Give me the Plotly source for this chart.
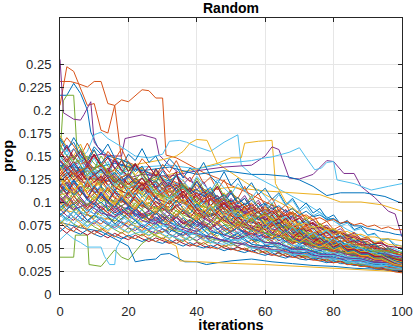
import plotly.graph_objects as go

# [Data]
# prop values are written in thousandths (per mille)
ITER = list(range(0, 101, 2))  # iterations sampled every 2 steps
ITER4 = list(range(0, 101, 4))  # coarser sampling for the extra runs

upper_runs = [
    [168, 155, 170, 158, 146, 160, 152, 163, 148, 139, 152, 145, 158, 143, 150, 136, 147, 139, 126, 137,
     131, 143, 128, 120, 133, 118, 126, 112, 121, 108, 115, 103, 110, 97, 104, 92, 99, 88, 93, 82,
     86, 76, 80, 70, 73, 64, 66, 58, 60, 52, 48],
    [158, 170, 161, 150, 164, 149, 140, 155, 146, 158, 142, 135, 147, 139, 128, 141, 132, 145, 130, 122,
     134, 120, 127, 113, 124, 110, 104, 117, 102, 109, 96, 104, 90, 97, 85, 91, 80, 86, 75, 79,
     70, 74, 64, 67, 60, 62, 55, 57, 50, 47, 44],
    [172, 160, 150, 163, 145, 156, 141, 135, 148, 133, 144, 129, 138, 124, 133, 120, 129, 115, 124, 110,
     119, 107, 114, 102, 110, 97, 105, 93, 99, 88, 94, 84, 89, 79, 84, 74, 78, 70, 73, 65,
     67, 60, 62, 56, 58, 52, 53, 48, 49, 45, 42],
    [150, 162, 148, 157, 140, 152, 138, 130, 145, 134, 126, 140, 131, 120, 135, 124, 116, 130, 119, 127,
     113, 122, 108, 117, 104, 112, 99, 107, 95, 102, 90, 97, 85, 92, 81, 86, 76, 81, 71, 75,
     67, 71, 63, 66, 58, 61, 54, 56, 50, 47, 44],
    [162, 150, 145, 158, 142, 136, 150, 139, 131, 146, 134, 142, 127, 121, 136, 125, 118, 131, 116, 112,
     126, 114, 108, 120, 106, 113, 100, 95, 107, 93, 88, 99, 85, 80, 90, 77, 83, 71, 77, 66,
     71, 62, 65, 58, 60, 53, 55, 49, 50, 45, 41],
    [145, 157, 140, 152, 136, 148, 133, 144, 127, 139, 125, 138, 131, 122, 135, 127, 118, 130, 123, 114,
     128, 119, 111, 124, 115, 108, 120, 112, 104, 114, 106, 98, 108, 96, 102, 90, 95, 85, 89, 80,
     82, 74, 77, 69, 71, 64, 65, 59, 60, 54, 52],
    [155, 143, 158, 146, 138, 151, 140, 133, 147, 135, 128, 141, 130, 122, 136, 124, 117, 129, 118, 111,
     123, 112, 106, 117, 103, 110, 98, 104, 92, 99, 88, 94, 84, 89, 78, 83, 74, 78, 69, 72,
     64, 67, 60, 62, 56, 57, 51, 53, 47, 44, 40],
    [170, 158, 165, 150, 144, 157, 142, 150, 137, 130, 144, 133, 139, 126, 121, 134, 123, 128, 116, 111,
     122, 110, 116, 104, 99, 110, 98, 104, 93, 88, 98, 86, 91, 81, 85, 76, 80, 71, 74, 66,
     69, 62, 64, 57, 59, 53, 54, 48, 49, 44, 41],
]

upper_mid_runs = [
    [140, 128, 142, 131, 123, 137, 126, 132, 118, 128, 113, 126, 117, 108, 122, 112, 104, 117, 107, 99,
     111, 102, 95, 107, 96, 90, 101, 91, 85, 95, 83, 89, 79, 84, 74, 79, 70, 74, 65, 69,
     61, 64, 57, 59, 53, 54, 49, 50, 45, 43, 41],
    [135, 147, 133, 125, 140, 129, 120, 134, 123, 115, 130, 118, 112, 125, 114, 120, 106, 116, 103, 98,
     110, 99, 104, 93, 100, 89, 95, 85, 91, 81, 87, 77, 82, 73, 77, 69, 72, 65, 67, 61,
     62, 57, 58, 53, 54, 49, 50, 45, 42, 40, 38],
    [145, 133, 127, 140, 124, 132, 119, 126, 113, 122, 109, 117, 105, 114, 120, 106, 100, 112, 98, 106,
     94, 101, 90, 97, 86, 93, 83, 88, 79, 84, 75, 80, 71, 76, 67, 71, 63, 66, 60, 62,
     56, 58, 53, 54, 49, 50, 46, 47, 43, 40, 37],
    [130, 141, 127, 136, 122, 116, 129, 118, 111, 124, 113, 107, 121, 110, 104, 116, 106, 99, 111, 101,
     94, 105, 96, 89, 100, 91, 85, 95, 86, 80, 89, 79, 74, 83, 74, 69, 76, 67, 63, 68,
     60, 63, 56, 58, 52, 53, 48, 48, 44, 39, 36],
    [138, 126, 134, 121, 128, 115, 124, 133, 119, 112, 126, 115, 108, 119, 110, 103, 115, 105, 98, 109,
     99, 93, 103, 94, 87, 97, 89, 83, 92, 84, 78, 86, 77, 72, 79, 70, 74, 65, 68, 60,
     63, 56, 58, 52, 53, 48, 49, 44, 41, 38, 36],
    [142, 150, 137, 129, 143, 132, 124, 137, 126, 119, 131, 121, 113, 126, 116, 109, 121, 112, 104, 115,
     106, 99, 110, 100, 94, 104, 95, 88, 97, 89, 83, 91, 82, 77, 84, 75, 70, 76, 68, 63,
     67, 60, 62, 56, 57, 51, 52, 47, 44, 40, 37],
    [128, 119, 131, 121, 114, 127, 117, 110, 123, 113, 106, 118, 109, 102, 114, 104, 97, 109, 100, 94,
     104, 96, 90, 99, 91, 85, 94, 86, 81, 89, 79, 74, 82, 73, 68, 75, 67, 63, 69, 61,
     58, 62, 55, 56, 50, 51, 46, 46, 42, 38, 35],
    [150, 139, 132, 145, 133, 126, 138, 127, 120, 132, 122, 115, 127, 117, 110, 122, 112, 106, 116, 107,
     100, 110, 102, 95, 105, 96, 90, 99, 90, 84, 92, 83, 78, 86, 77, 72, 78, 69, 65, 70,
     62, 64, 57, 58, 53, 53, 48, 48, 44, 40, 37],
]

mid_runs = [
    [120, 109, 123, 112, 105, 118, 108, 101, 114, 104, 97, 110, 101, 94, 106, 97, 90, 102, 93, 87,
     98, 89, 84, 94, 85, 80, 89, 81, 76, 84, 74, 70, 78, 69, 65, 71, 63, 60, 65, 57,
     54, 58, 51, 52, 47, 48, 44, 44, 40, 36, 34],
    [116, 127, 114, 107, 121, 110, 103, 116, 106, 99, 111, 101, 95, 107, 97, 91, 102, 93, 87, 97,
     88, 83, 93, 84, 79, 88, 80, 75, 83, 74, 70, 77, 68, 64, 71, 63, 59, 65, 58, 54,
     59, 52, 53, 48, 49, 45, 45, 41, 38, 35, 33],
    [125, 114, 108, 121, 109, 102, 115, 104, 98, 110, 100, 94, 106, 96, 90, 101, 92, 86, 96, 88,
     82, 92, 84, 78, 87, 79, 74, 83, 75, 70, 77, 69, 65, 72, 64, 60, 66, 58, 55, 60,
     53, 55, 49, 50, 46, 46, 42, 42, 38, 35, 32],
    [112, 122, 109, 117, 104, 98, 111, 101, 95, 107, 97, 91, 102, 93, 88, 98, 89, 83, 93, 85,
     80, 89, 81, 76, 85, 77, 72, 80, 72, 68, 75, 67, 63, 70, 62, 58, 64, 57, 53, 58,
     51, 53, 48, 48, 44, 44, 40, 40, 36, 34, 32],
    [108, 99, 111, 102, 96, 107, 98, 92, 103, 95, 89, 99, 91, 85, 95, 87, 82, 91, 84, 78,
     87, 79, 75, 83, 76, 71, 79, 72, 68, 75, 66, 63, 70, 62, 59, 65, 57, 54, 59, 52,
     49, 53, 46, 47, 43, 43, 39, 39, 36, 33, 31],
    [122, 131, 118, 110, 125, 113, 106, 119, 109, 102, 114, 104, 98, 110, 100, 94, 105, 96, 90, 100,
     91, 86, 95, 86, 81, 90, 82, 77, 85, 76, 72, 79, 70, 66, 73, 65, 61, 67, 59, 55,
     61, 53, 55, 49, 50, 45, 45, 41, 38, 34, 32],
    [118, 108, 121, 111, 104, 116, 106, 100, 111, 102, 95, 106, 97, 91, 101, 93, 87, 97, 89, 83,
     92, 84, 79, 88, 80, 75, 84, 76, 71, 78, 69, 66, 73, 65, 61, 67, 59, 56, 61, 54,
     51, 55, 48, 49, 45, 45, 41, 41, 37, 33, 31],
    [110, 119, 107, 114, 102, 97, 109, 100, 94, 104, 96, 90, 100, 92, 86, 96, 88, 83, 92, 84,
     79, 88, 80, 75, 83, 76, 71, 78, 70, 66, 73, 65, 61, 68, 60, 57, 62, 55, 52, 56,
     49, 52, 46, 47, 43, 43, 39, 38, 35, 32, 30],
    [104, 95, 107, 98, 92, 102, 94, 88, 98, 90, 85, 94, 87, 81, 90, 83, 78, 87, 80, 75,
     83, 76, 72, 79, 72, 68, 76, 69, 65, 71, 63, 60, 67, 59, 56, 62, 55, 52, 56, 50,
     47, 51, 45, 45, 41, 41, 38, 37, 34, 31, 30],
    [128, 115, 110, 122, 108, 102, 113, 103, 97, 108, 98, 92, 102, 93, 88, 97, 89, 84, 93, 85,
     80, 88, 80, 75, 83, 75, 71, 78, 70, 66, 72, 64, 61, 67, 59, 56, 61, 54, 51, 55,
     48, 51, 45, 46, 42, 42, 38, 38, 35, 32, 31],
]

low_runs = [
    [100, 91, 103, 94, 88, 98, 90, 85, 94, 87, 82, 91, 84, 79, 88, 81, 76, 84, 78, 73,
     80, 74, 70, 77, 71, 67, 73, 67, 63, 69, 61, 58, 64, 57, 54, 59, 52, 50, 54, 48,
     46, 49, 43, 44, 40, 40, 37, 36, 34, 32, 31],
    [96, 104, 94, 88, 98, 90, 85, 93, 86, 81, 89, 82, 78, 86, 79, 75, 82, 76, 71, 78,
     71, 67, 74, 68, 64, 70, 64, 61, 66, 59, 56, 62, 55, 52, 57, 51, 49, 53, 47, 45,
     49, 43, 44, 40, 40, 37, 36, 34, 32, 31, 30],
    [106, 96, 91, 101, 92, 87, 96, 88, 83, 92, 85, 80, 88, 81, 77, 84, 78, 73, 80, 74,
     70, 76, 70, 66, 72, 66, 62, 68, 62, 58, 64, 57, 54, 59, 53, 50, 55, 49, 47, 50,
     44, 46, 41, 42, 39, 38, 35, 35, 32, 30, 29],
    [92, 100, 90, 95, 86, 82, 91, 84, 79, 87, 81, 76, 84, 78, 73, 80, 74, 70, 77, 71,
     67, 73, 67, 63, 69, 64, 60, 65, 59, 56, 61, 55, 52, 57, 51, 49, 53, 47, 45, 48,
     43, 45, 40, 41, 38, 37, 35, 34, 31, 30, 29],
    [102, 94, 98, 90, 85, 94, 87, 82, 90, 84, 79, 87, 80, 76, 83, 77, 73, 79, 73, 69,
     75, 69, 65, 71, 66, 62, 68, 62, 59, 63, 57, 54, 59, 53, 50, 55, 49, 46, 50, 45,
     42, 45, 40, 40, 37, 36, 34, 33, 31, 29, 28],
    [98, 106, 97, 103, 94, 99, 91, 96, 88, 93, 85, 91, 83, 88, 80, 85, 78, 83, 76, 80,
     73, 78, 71, 76, 69, 73, 66, 70, 63, 67, 61, 64, 58, 62, 55, 59, 53, 56, 50, 53,
     48, 51, 46, 48, 43, 45, 41, 42, 39, 40, 38],
    [88, 81, 90, 83, 78, 86, 80, 75, 83, 77, 73, 80, 74, 70, 77, 71, 67, 73, 68, 64,
     70, 65, 61, 67, 62, 58, 63, 58, 55, 60, 53, 51, 56, 50, 48, 52, 47, 44, 48, 43,
     40, 43, 38, 39, 36, 35, 33, 33, 30, 29, 29],
    [84, 91, 83, 79, 87, 80, 76, 83, 77, 72, 79, 73, 69, 76, 70, 67, 73, 67, 63, 69,
     64, 60, 66, 61, 57, 62, 57, 54, 59, 53, 51, 55, 49, 47, 51, 46, 44, 47, 42, 40,
     43, 38, 39, 36, 36, 33, 33, 31, 29, 28, 28],
    [80, 74, 82, 76, 71, 78, 72, 68, 75, 70, 66, 72, 67, 63, 69, 64, 60, 66, 61, 58,
     63, 58, 55, 60, 56, 52, 57, 53, 50, 54, 48, 46, 50, 45, 43, 47, 42, 40, 43, 39,
     37, 39, 35, 35, 33, 32, 30, 30, 28, 27, 27],
    [92, 85, 80, 88, 80, 76, 83, 76, 72, 79, 72, 69, 75, 69, 66, 71, 65, 62, 67, 62,
     58, 63, 58, 55, 60, 55, 52, 56, 51, 49, 53, 48, 46, 49, 44, 43, 46, 41, 39, 42,
     37, 39, 35, 35, 32, 32, 30, 29, 28, 27, 26],
    [76, 83, 76, 72, 79, 73, 69, 75, 70, 66, 72, 66, 63, 68, 63, 60, 65, 60, 57, 62,
     57, 54, 58, 54, 51, 55, 51, 48, 52, 47, 45, 49, 44, 42, 46, 41, 40, 42, 38, 36,
     39, 35, 35, 32, 32, 30, 29, 28, 27, 26, 26],
    [86, 79, 84, 78, 73, 80, 74, 70, 76, 71, 67, 73, 68, 64, 70, 65, 61, 66, 62, 58,
     63, 59, 56, 60, 56, 53, 57, 53, 50, 54, 48, 46, 50, 45, 43, 46, 42, 40, 43, 38,
     37, 39, 35, 35, 33, 32, 30, 30, 28, 27, 27],
    [72, 66, 73, 68, 64, 69, 65, 61, 66, 62, 59, 64, 60, 57, 61, 58, 55, 59, 55, 52,
     56, 52, 50, 54, 50, 48, 51, 48, 46, 49, 44, 42, 45, 41, 40, 42, 38, 37, 39, 35,
     34, 36, 32, 32, 30, 30, 28, 28, 26, 25, 25],
    [68, 74, 68, 65, 70, 65, 62, 67, 63, 60, 64, 60, 57, 61, 57, 55, 59, 55, 52, 56,
     52, 50, 53, 50, 47, 50, 47, 45, 48, 44, 42, 45, 41, 39, 42, 38, 37, 39, 36, 34,
     36, 33, 33, 31, 31, 29, 28, 27, 26, 25, 24],
    [78, 71, 68, 75, 69, 65, 71, 66, 62, 67, 62, 60, 65, 60, 57, 61, 57, 55, 59, 54,
     52, 56, 51, 49, 53, 49, 47, 50, 46, 44, 47, 43, 41, 44, 40, 39, 41, 37, 36, 38,
     34, 35, 32, 32, 30, 30, 28, 27, 26, 24, 23],
]

odd_runs = [
    [150, 160, 146, 155, 142, 152, 139, 148, 136, 145, 133, 142, 130, 139, 128, 136, 126, 133, 104, 112,
     100, 108, 96, 104, 92, 99, 88, 95, 84, 90, 80, 86, 76, 82, 72, 77, 68, 72, 64, 67,
     60, 63, 56, 58, 53, 54, 49, 50, 46, 44, 42],
    [120, 112, 124, 115, 121, 110, 118, 90, 98, 86, 95, 84, 92, 81, 89, 79, 86, 76, 83, 74,
     80, 72, 78, 70, 75, 68, 72, 65, 69, 62, 66, 60, 63, 57, 60, 54, 57, 51, 54, 48,
     51, 46, 48, 43, 45, 40, 42, 38, 39, 36, 35],
    [135, 126, 133, 124, 130, 121, 127, 118, 124, 115, 121, 112, 118, 109, 115, 106, 112, 104, 109, 101,
     106, 98, 103, 96, 100, 93, 97, 91, 94, 89, 92, 87, 90, 85, 88, 70, 74, 66, 69, 61,
     63, 57, 59, 54, 55, 50, 51, 47, 47, 44, 42],
    [110, 116, 107, 113, 104, 110, 101, 107, 99, 105, 97, 103, 95, 100, 93, 98, 91, 96, 89, 94,
     87, 92, 85, 90, 83, 88, 81, 86, 79, 84, 77, 82, 75, 79, 73, 77, 70, 74, 67, 71,
     64, 68, 61, 64, 58, 61, 56, 58, 54, 53, 52],
    [145, 136, 131, 122, 120, 111, 110, 102, 101, 94, 93, 87, 86, 81, 80, 76, 75, 71, 70, 67,
     66, 63, 62, 60, 58, 57, 55, 54, 52, 51, 50, 48, 48, 46, 45, 44, 43, 42, 41, 40,
     39, 38, 38, 37, 36, 35, 35, 34, 33, 32, 32],
    [90, 98, 94, 102, 97, 105, 99, 106, 100, 95, 103, 96, 92, 99, 93, 90, 96, 90, 87, 92,
     86, 83, 88, 82, 80, 85, 79, 77, 81, 75, 73, 77, 71, 68, 66, 63, 61, 59, 57, 55,
     53, 53, 51, 50, 49, 48, 47, 47, 46, 45, 45],
    [160, 151, 158, 148, 128, 134, 122, 129, 117, 124, 113, 120, 110, 116, 106, 112, 103, 108, 99, 104,
     95, 100, 91, 96, 87, 92, 84, 88, 80, 84, 76, 80, 72, 75, 68, 70, 64, 65, 60, 60,
     56, 56, 52, 52, 49, 48, 46, 45, 43, 42, 41],
    [125, 132, 124, 131, 123, 130, 122, 129, 121, 127, 119, 126, 118, 124, 116, 122, 114, 119, 110, 115,
     106, 111, 102, 107, 98, 102, 94, 98, 90, 94, 86, 90, 83, 86, 79, 82, 75, 77, 72, 72,
     67, 68, 63, 63, 59, 59, 55, 55, 52, 51, 50],
    [140, 134, 141, 132, 138, 129, 135, 126, 132, 123, 129, 120, 126, 117, 123, 114, 120, 112, 117, 109,
     114, 106, 111, 103, 108, 100, 105, 97, 102, 95, 99, 92, 96, 89, 93, 86, 90, 84, 86, 81,
     82, 77, 78, 74, 74, 71, 70, 68, 67, 65, 64],
    [155, 146, 150, 141, 145, 136, 140, 131, 135, 127, 130, 122, 126, 118, 122, 114, 118, 110, 114, 106,
     110, 103, 107, 100, 104, 97, 101, 94, 98, 91, 95, 89, 92, 86, 89, 84, 86, 81, 83, 79,
     81, 77, 79, 75, 77, 73, 75, 71, 73, 70, 70],
    [128, 121, 127, 119, 124, 116, 121, 113, 118, 110, 115, 107, 112, 104, 109, 101, 106, 99, 103, 96,
     100, 93, 97, 90, 94, 88, 91, 85, 88, 83, 86, 80, 83, 77, 80, 75, 77, 72, 74, 70,
     71, 67, 68, 64, 65, 62, 62, 60, 60, 59, 58],
    [100, 108, 99, 105, 96, 102, 93, 99, 90, 96, 87, 93, 85, 90, 82, 87, 80, 84, 77, 81,
     75, 79, 105, 98, 102, 93, 96, 87, 90, 81, 84, 75, 78, 69, 72, 64, 66, 59, 61, 55,
     56, 51, 52, 48, 49, 46, 46, 44, 43, 41, 40],
]

# extra runs read every 4 iterations
extra_runs = [
    [132, 118, 140, 125, 112, 130, 117, 105, 121, 108, 96, 110, 98, 88, 95, 82, 79, 71, 68, 60, 57, 50, 47, 41, 39, 34],
    [108, 124, 102, 116, 98, 110, 94, 104, 90, 99, 86, 78, 90, 74, 70, 66, 72, 60, 58, 51, 49, 44, 42, 37, 36, 33],
    [150, 136, 128, 142, 120, 132, 112, 124, 104, 116, 98, 108, 92, 86, 80, 88, 74, 70, 62, 60, 53, 51, 45, 43, 38, 35],
    [96, 84, 104, 90, 82, 96, 86, 78, 92, 80, 74, 86, 70, 66, 74, 60, 60, 53, 52, 46, 45, 40, 39, 34, 33, 30],
    [118, 132, 110, 124, 104, 98, 116, 96, 90, 102, 84, 94, 80, 76, 70, 78, 64, 62, 55, 54, 47, 46, 41, 40, 35, 33],
    [86, 98, 80, 92, 76, 88, 72, 84, 70, 64, 78, 62, 58, 66, 54, 52, 51, 46, 45, 41, 40, 36, 35, 32, 31, 29],
    [140, 124, 134, 118, 128, 110, 120, 104, 112, 98, 106, 92, 86, 96, 80, 76, 84, 70, 66, 59, 57, 50, 49, 42, 41, 37],
    [124, 112, 130, 116, 104, 120, 108, 98, 112, 100, 90, 102, 84, 80, 88, 74, 72, 64, 62, 54, 53, 47, 45, 40, 39, 35],
    [102, 114, 96, 108, 92, 100, 86, 96, 82, 90, 78, 72, 84, 70, 66, 62, 70, 57, 56, 49, 48, 43, 42, 37, 36, 32],
    [160, 142, 150, 134, 124, 138, 118, 128, 110, 120, 104, 96, 108, 90, 84, 78, 86, 71, 68, 59, 58, 51, 50, 43, 41, 37],
    [112, 98, 116, 104, 94, 108, 96, 88, 100, 86, 80, 92, 76, 72, 80, 66, 64, 57, 57, 50, 49, 44, 43, 38, 37, 33],
    [78, 90, 74, 84, 70, 80, 66, 76, 64, 58, 70, 56, 54, 60, 50, 48, 47, 43, 43, 39, 39, 35, 35, 31, 31, 28],
    [128, 144, 122, 136, 116, 108, 126, 104, 98, 112, 92, 86, 98, 82, 78, 74, 82, 67, 64, 57, 56, 49, 48, 42, 41, 37],
    [94, 106, 90, 100, 86, 94, 82, 90, 78, 72, 84, 68, 64, 72, 60, 56, 55, 49, 49, 44, 43, 39, 38, 34, 34, 31],
    [146, 130, 138, 122, 130, 114, 122, 106, 114, 100, 92, 104, 88, 82, 90, 76, 74, 65, 64, 56, 56, 49, 48, 41, 40, 36],
    [116, 104, 122, 108, 98, 112, 100, 92, 104, 90, 84, 96, 78, 74, 82, 70, 68, 60, 60, 52, 52, 46, 45, 39, 39, 35],
    [104, 92, 98, 88, 84, 92, 80, 76, 86, 72, 68, 78, 64, 60, 66, 56, 55, 49, 48, 43, 43, 39, 38, 34, 34, 31],
    [136, 150, 130, 142, 124, 116, 132, 110, 104, 118, 98, 92, 104, 86, 80, 88, 74, 72, 63, 62, 54, 54, 47, 46, 40, 38],
    [88, 76, 92, 82, 74, 86, 76, 70, 80, 68, 64, 74, 60, 58, 64, 54, 53, 47, 47, 42, 42, 38, 37, 33, 33, 30],
    [122, 136, 116, 128, 110, 104, 120, 100, 94, 108, 88, 84, 94, 78, 74, 70, 78, 63, 62, 55, 54, 47, 47, 41, 40, 36],
]

# runs that stand out from the bundle (own iteration positions)
orange_a_x = [0, 1, 3, 5, 8, 10, 12, 14, 16, 18, 20, 24, 26, 28, 30, 31, 34, 38, 42, 46, 50, 55, 60, 65, 70, 75, 80, 85, 90, 95, 100]
orange_a_y = [231, 231, 231, 229, 225, 231, 231, 207, 205, 211, 209, 222, 221, 213, 213, 151, 148, 140, 132, 126, 118, 110, 100, 92, 84, 74, 66, 58, 52, 46, 42]
orange_b_x = [0, 2, 4, 6, 8, 10, 12, 14, 16, 18, 22, 26, 30, 36, 42, 48, 54, 60, 66, 72, 78, 84, 90, 96, 100]
orange_b_y = [205, 247, 242, 224, 205, 207, 178, 175, 205, 146, 140, 132, 128, 118, 110, 98, 90, 82, 72, 64, 56, 50, 44, 40, 36]
blue_a_x = [0, 2, 4, 6, 8, 9, 11, 14, 18, 22, 28, 34, 40, 46, 52, 58, 64, 70, 76, 82, 88, 94, 100]
blue_a_y = [216, 216, 229, 218, 200, 176, 160, 150, 146, 138, 128, 120, 110, 100, 92, 84, 76, 68, 60, 52, 46, 40, 35]
green_a_x = [0, 1, 2, 4, 5, 8, 12, 16, 20, 26, 32, 38, 44, 50, 56, 62, 68, 74, 80, 86, 92, 100]
green_a_y = [150, 210, 216, 216, 155, 140, 132, 126, 120, 112, 104, 96, 88, 80, 72, 64, 58, 52, 46, 42, 38, 33]
purple_a_x = [0, 1, 4, 6, 7, 9, 10, 13, 17, 22, 28, 34, 40, 46, 52, 58, 64, 70, 76, 82, 88, 94, 100]
purple_a_y = [255, 197, 190, 189, 195, 209, 165, 150, 142, 136, 126, 118, 110, 100, 92, 84, 74, 66, 58, 52, 46, 40, 36]
purple_b_x = [0, 4, 8, 12, 16, 18, 19, 22, 24, 26, 28, 29, 32, 36, 40, 46, 52, 58, 64, 70, 76, 82, 88, 94, 100]
purple_b_y = [135, 140, 148, 152, 150, 150, 169, 171, 173, 171, 169, 151, 140, 128, 118, 106, 96, 88, 80, 72, 64, 56, 50, 44, 40]
cyan_a_x = [0, 4, 8, 10, 12, 14, 18, 22, 26, 30, 32, 35, 37, 40, 44, 48, 52, 53, 56, 60, 66, 72, 78, 84, 90, 96, 100]
cyan_a_y = [120, 140, 155, 173, 176, 169, 160, 150, 148, 152, 166, 167, 165, 160, 155, 165, 173, 140, 130, 122, 110, 98, 84, 70, 60, 52, 46]
yellow_a_x = [0, 6, 12, 18, 24, 30, 34, 36, 38, 40, 43, 46, 50, 54, 60, 66, 72, 78, 84, 90, 96, 100]
yellow_a_y = [128, 136, 130, 138, 142, 146, 150, 155, 164, 168, 167, 142, 132, 122, 108, 96, 84, 72, 62, 54, 48, 44]
yellow_b_x = [0, 8, 16, 24, 32, 40, 46, 50, 53, 54, 58, 62, 63, 66, 70, 76, 82, 88, 94, 100]
yellow_b_y = [112, 118, 124, 120, 130, 136, 142, 148, 148, 164, 166, 167, 120, 100, 88, 76, 66, 58, 50, 45]
purple_c_x = [0, 8, 16, 24, 32, 40, 48, 56, 60, 62, 64, 67, 70, 74, 78, 80, 83, 86, 88, 92, 96, 98, 100]
purple_c_y = [118, 126, 122, 130, 128, 134, 138, 140, 150, 160, 157, 126, 125, 130, 145, 144, 131, 131, 117, 105, 90, 87, 62]
cyan_b_x = [0, 8, 16, 24, 32, 40, 48, 56, 60, 62, 67, 70, 72, 74.5, 76.5, 78, 80, 81, 86, 91, 96, 100]
cyan_b_y = [128, 134, 130, 138, 140, 136, 142, 145, 148, 149, 154, 159, 148, 135, 137, 143, 144, 124, 120, 113, 117, 120]
blue_b_x = [0, 8, 16, 24, 32, 40, 48, 56, 60, 66, 70, 74, 78, 82, 89, 95, 99, 100]
blue_b_y = [140, 136, 142, 134, 138, 130, 134, 130, 130, 128, 124, 117, 107, 110, 110, 106, 100, 99]
yellow_c_x = [0, 10, 20, 30, 40, 50, 60, 70, 76, 82, 88, 94, 100]
yellow_c_y = [108, 114, 110, 118, 112, 116, 112, 110, 108, 100, 100, 97, 90]
green_low_x = [0, 4, 4.5, 8, 8.5, 12, 16, 18, 20, 22, 24, 28, 32, 38, 44, 50, 56, 62, 68, 74, 80, 86, 92, 100]
green_low_y = [40, 40, 64, 64, 32, 30, 48, 40, 37, 46, 55, 65, 70, 66, 60, 56, 52, 48, 44, 40, 36, 33, 30, 27]
cyan_low_x = [0, 2, 4, 6, 8, 12, 13, 14.5, 16, 16.5, 18, 22, 26, 30, 36, 42, 48, 54, 60, 66, 72, 80, 88, 94, 100]
cyan_low_y = [59, 66, 60, 56, 51, 51, 41, 32, 32, 50, 60, 66, 70, 74, 68, 64, 58, 54, 48, 44, 40, 36, 32, 30, 28]
blue_low_x = [0, 6, 12, 16, 20, 21, 22, 25, 28, 29.5, 32, 34, 36.5, 40, 42.8, 46, 50, 56, 62, 68, 74, 80, 86, 92, 100]
blue_low_y = [78, 72, 68, 60, 52, 44, 35, 37, 38, 43, 44, 40, 35, 35, 32, 34, 36, 38, 35, 33, 31, 30, 28, 27, 25]
yellow_low_x = [0, 8, 16, 24, 30, 34, 35, 40, 46, 52, 60, 70, 80, 90, 100]
yellow_low_y = [92, 86, 80, 72, 60, 52, 36, 35, 34, 33, 32, 30, 28, 26, 24]

Y_TICKS = [0, 0.025, 0.05, 0.075, 0.1, 0.125, 0.15, 0.175, 0.2, 0.225, 0.25]
Y_LABELS = ['0', '0.025', '0.05', '0.075', '0.1', '0.125', '0.15', '0.175', '0.2', '0.225', '0.25']
X_TICKS = [0, 20, 40, 60, 80, 100]

# matlab default line colour order
COLORS = ['#0072BD', '#D95319', '#EDB120', '#7E2F8E', '#77AC30', '#4DBEEE', '#A2142F']

fig = go.Figure()

def add_run(x, y_permil, color):
    fig.add_trace(go.Scatter(
        x=x[:len(y_permil)], y=[v / 1000 for v in y_permil], mode='lines',
        line=dict(color=color, width=1), hoverinfo='skip'))

special = [
    (orange_a_x, orange_a_y, COLORS[1]), (orange_b_x, orange_b_y, COLORS[1]),
    (blue_a_x, blue_a_y, COLORS[0]), (green_a_x, green_a_y, COLORS[4]),
    (purple_a_x, purple_a_y, COLORS[3]), (purple_b_x, purple_b_y, COLORS[3]),
    (cyan_a_x, cyan_a_y, COLORS[5]), (yellow_a_x, yellow_a_y, COLORS[2]),
    (yellow_b_x, yellow_b_y, COLORS[2]), (purple_c_x, purple_c_y, COLORS[3]),
    (cyan_b_x, cyan_b_y, COLORS[5]), (blue_b_x, blue_b_y, COLORS[0]),
    (yellow_c_x, yellow_c_y, COLORS[2]), (green_low_x, green_low_y, COLORS[4]),
    (cyan_low_x, cyan_low_y, COLORS[5]), (blue_low_x, blue_low_y, COLORS[0]),
    (yellow_low_x, yellow_low_y, COLORS[2]),
]
for sx, sy, c in special:
    add_run(sx, sy, c)

runs = ([(ITER, r) for r in upper_runs + low_runs] +
        [(ITER4, r) for r in extra_runs[:10]] +
        [(ITER, r) for r in upper_mid_runs + odd_runs] +
        [(ITER4, r) for r in extra_runs[10:]] +
        [(ITER, r) for r in mid_runs])
for i, (xs, run) in enumerate(runs):
    add_run(xs, run, COLORS[i % len(COLORS)])

axis_style = dict(
    ticks='inside', ticklen=4, tickcolor='#262626', showline=True, linecolor='#262626',
    linewidth=1, mirror='ticks', showgrid=True, gridcolor='#e6e6e6', gridwidth=1,
    zeroline=False, automargin=False, tickfont=dict(size=13, color='#262626'),
)

fig.update_layout(
    width=414, height=333,
    margin=dict(l=60, r=12, t=18, b=39),
    paper_bgcolor='white', plot_bgcolor='white',
    showlegend=False,
    font=dict(family='Liberation Sans, Arial, sans-serif', color='#262626'),
    title=dict(text='<b>Random</b>', x=0.5, xref='paper', xanchor='center',
               y=0.976, yref='container', yanchor='middle',
               font=dict(size=14, color='#000000')),
    xaxis=dict(range=[0, 100], tickvals=X_TICKS, ticklabelstandoff=5,
               title=dict(text='<b>iterations</b>', standoff=2, font=dict(size=14.5, color='#000000')),
               **axis_style),
    yaxis=dict(range=[0, 0.3], tickvals=Y_TICKS, ticktext=Y_LABELS, ticklabelstandoff=5,
               title=dict(text='<b>prop</b>', standoff=4, font=dict(size=14.5, color='#000000')),
               **axis_style),
)

# page body margin would shift the figure by 8px
fig.write_html("out.html", config={'displayModeBar': False},
               post_script="document.body.style.margin='0';")
